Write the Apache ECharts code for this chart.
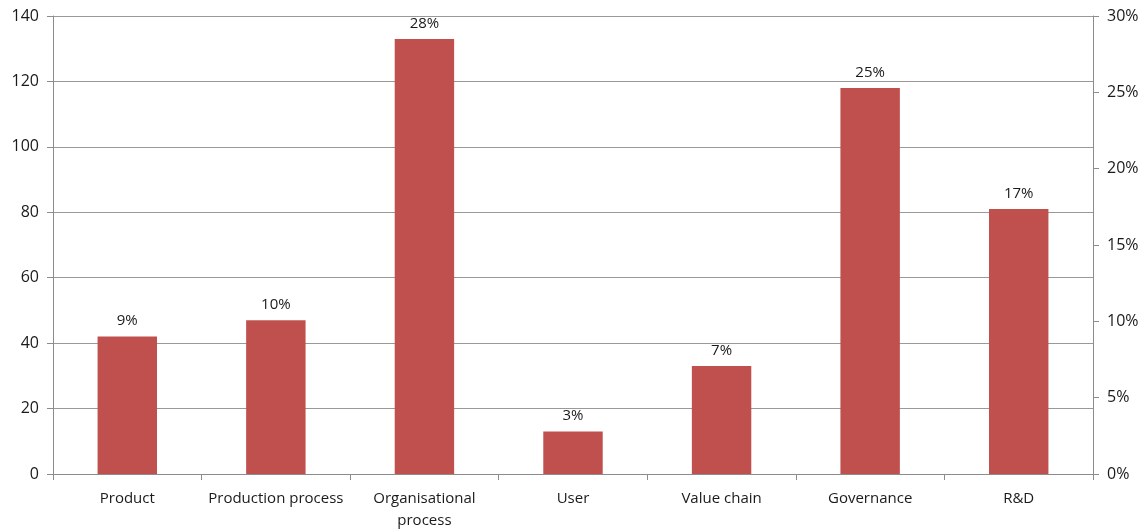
<!DOCTYPE html>
<html><head><meta charset="utf-8">
<script src="https://cdn.jsdelivr.net/npm/echarts@6/dist/echarts.min.js"></script>
<style>html,body{margin:0;padding:0;background:#fff}#c{width:1146px;height:532px}</style>
</head><body><div id="c"></div>
<script>
const categories = ["Product", "Production process", "Organisational\nprocess", "User", "Value chain", "Governance", "R&D"];
const counts = [42, 47, 133, 13, 33, 118, 81];
const shareLabels = ["9%", "10%", "28%", "3%", "7%", "25%", "17%"];
const leftTicks = {min: 0, max: 140, interval: 20};
const rightTicks = {min: 0, max: 0.30, interval: 0.05};

const font = "'Open Sans', 'Noto Sans', sans-serif";
const axisGray = '#8c8c8c';
const chart = echarts.init(document.getElementById('c'));
chart.setOption({
  animation: false,
  grid: {left: 53, right: 53, top: 16, bottom: 55, containLabel: false},
  xAxis: {
    type: 'category', data: categories,
    axisLine: {lineStyle: {color: axisGray, width: 1}},
    axisTick: {show: true, length: 6, lineStyle: {color: axisGray}},
    axisLabel: {color: '#1a1a1a', fontFamily: font, fontSize: 15, margin: 14, lineHeight: 22, interval: 0}
  },
  yAxis: [{
    type: 'value', min: leftTicks.min, max: leftTicks.max, interval: leftTicks.interval,
    axisLine: {show: true, lineStyle: {color: axisGray}},
    axisTick: {show: true, length: 6, lineStyle: {color: axisGray}},
    splitLine: {lineStyle: {color: '#999', width: 1}},
    axisLabel: {color: '#1a1a1a', fontFamily: font, fontSize: 16, margin: 14}
  }, {
    type: 'value', position: 'right', min: rightTicks.min, max: rightTicks.max, interval: rightTicks.interval,
    axisLine: {show: true, lineStyle: {color: axisGray}},
    axisTick: {show: true, length: 6, lineStyle: {color: axisGray}},
    splitLine: {show: false},
    axisLabel: {color: '#1a1a1a', fontFamily: font, fontSize: 16, margin: 14,
      formatter: v => Math.round(v * 100) + '%'}
  }],
  series: [{
    type: 'bar', data: counts, barWidth: '40%', yAxisIndex: 0,
    itemStyle: {color: '#C0504D'},
    label: {show: true, position: 'top', distance: 8, color: '#1a1a1a', fontFamily: font, fontSize: 15,
      formatter: p => shareLabels[p.dataIndex]}
  }]
});
</script></body></html>
